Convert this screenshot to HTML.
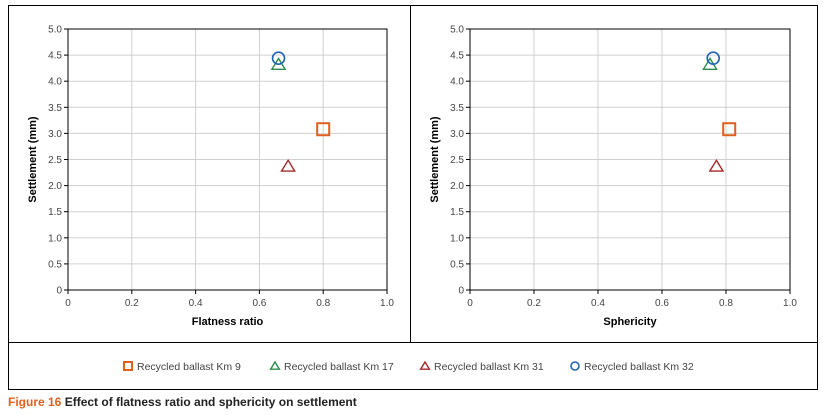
<!DOCTYPE html>
<html><head><meta charset="utf-8"><style>
body{margin:0;background:#fff;font-family:"Liberation Sans",sans-serif}
svg{display:block}
</style></head><body>
<svg width="823" height="415" xmlns="http://www.w3.org/2000/svg">
<rect x="8.5" y="5.5" width="809" height="384" fill="none" stroke="#000" stroke-width="1"/>
<line x1="8" y1="342.5" x2="818" y2="342.5" stroke="#000"/>
<line x1="410.5" y1="5" x2="410.5" y2="342" stroke="#000"/>
<g id="left"></g>
<g id="right"></g>
<g id="legend"></g>
<text x="8" y="406" font-size="12" font-weight="bold" fill="#222" style="font-family:'Liberation Sans Narrow','Liberation Sans',sans-serif"><tspan fill="#e06020">Figure 16</tspan> Effect of flatness ratio and sphericity on settlement</text>
</svg>
<script>
const seriesNames = ["Recycled ballast Km 9","Recycled ballast Km 17","Recycled ballast Km 31","Recycled ballast Km 32"];
const flatnessX = [0.80, 0.66, 0.69, 0.66];
const sphericityX = [0.81, 0.75, 0.77, 0.76];
const settlementY = [3.08, 4.32, 2.37, 4.44];
const xTicks = [0,0.2,0.4,0.6,0.8,1.0];
const xTickLabels = ["0","0.2","0.4","0.6","0.8","1.0"];
const yTicks = [0,0.5,1,1.5,2,2.5,3,3.5,4,4.5,5];
const yTickLabels = ["0","0.5","1.0","1.5","2.0","2.5","3.0","3.5","4.0","4.5","5.0"];
const colors = ["#e0601b","#2e8b4e","#a52a2a","#1f64b4"];
const shapes = ["square","triangle","triangle","circle"];
const NS="http://www.w3.org/2000/svg";
function mk(tag,attrs,parent){const e=document.createElementNS(NS,tag);for(const k in attrs)e.setAttribute(k,attrs[k]);parent.appendChild(e);return e;}
function marker(g,shape,cx,cy,color,s){
  let e;
  if(shape==="square") e=mk("rect",{x:cx-s,y:cy-s,width:2*s,height:2*s,fill:"none",stroke:color,"stroke-width":2},g);
  else if(shape==="triangle") e=mk("path",{d:`M${cx},${cy-s} L${cx+s*1.1},${cy+s*0.8} L${cx-s*1.1},${cy+s*0.8} Z`,fill:"none",stroke:color,"stroke-width":1.4},g);
  else e=mk("circle",{cx:cx,cy:cy,r:s,fill:"none",stroke:color,"stroke-width":1.6},g);
  return e;
}
function chart(g,x0,x1,xs,xtitle){
  const y0=290,y1=29;
  const sx=v=>x0+(x1-x0)*v, sy=v=>y0-(y0-y1)*v/5;
  yTicks.forEach((t,i)=>{
    const l=mk("line",{x1:x0,x2:x1,y1:sy(t),y2:sy(t),stroke:"#d0d0d0"},g);
    
    
    mk("line",{x1:x0-4,x2:x0,y1:sy(t),y2:sy(t),stroke:"#000"},g);
    const tx=mk("text",{x:x0-6,y:sy(t)+3.5,"font-size":10,fill:"#444","text-anchor":"end"},g);
    tx.textContent=yTickLabels[i];
    
    
  });
  xTicks.forEach((t,i)=>{
    const l=mk("line",{x1:sx(t),x2:sx(t),y1:y0,y2:y1,stroke:"#d0d0d0"},g);
    
    
    mk("line",{x1:sx(t),x2:sx(t),y1:y0,y2:y0+4,stroke:"#000"},g);
    const tx=mk("text",{x:sx(t),y:y0+16,"font-size":10,fill:"#444","text-anchor":"middle"},g);
    tx.textContent=xTickLabels[i];
    
    
  });
  const f=mk("rect",{x:x0,y:y1,width:x1-x0,height:y0-y1,fill:"none",stroke:"#000","stroke-width":1},g);
  
  
  const xt=mk("text",{x:(x0+x1)/2,y:325,"font-size":11,"font-weight":"bold","text-anchor":"middle"},g);
  xt.textContent=xtitle;
  
  
  const yt=mk("text",{x:0,y:0,"font-size":11,"font-weight":"bold","text-anchor":"middle",transform:`translate(${x0-32},${(y0+y1)/2}) rotate(-90)`},g);
  yt.textContent="Settlement (mm)";
  
  
  xs.forEach((v,i)=>{
    const m=marker(g,shapes[i],sx(v),sy(settlementY[i]),colors[i],shapes[i]==="square"?6:6);
    
    
  });
}
chart(document.getElementById('left'),68,387,flatnessX,"Flatness ratio");
chart(document.getElementById('right'),470,790,sphericityX,"Sphericity");
const lg=document.getElementById('legend');
const lx=[128,275,425,575];
seriesNames.forEach((n,i)=>{
  const m=marker(lg,shapes[i],lx[i],366,colors[i],4);
  
  
  const t=mk("text",{x:lx[i]+9,y:370,"font-size":10.5,fill:"#444"},lg);
  t.textContent=n;
  
  
});
</script>
</body></html>
